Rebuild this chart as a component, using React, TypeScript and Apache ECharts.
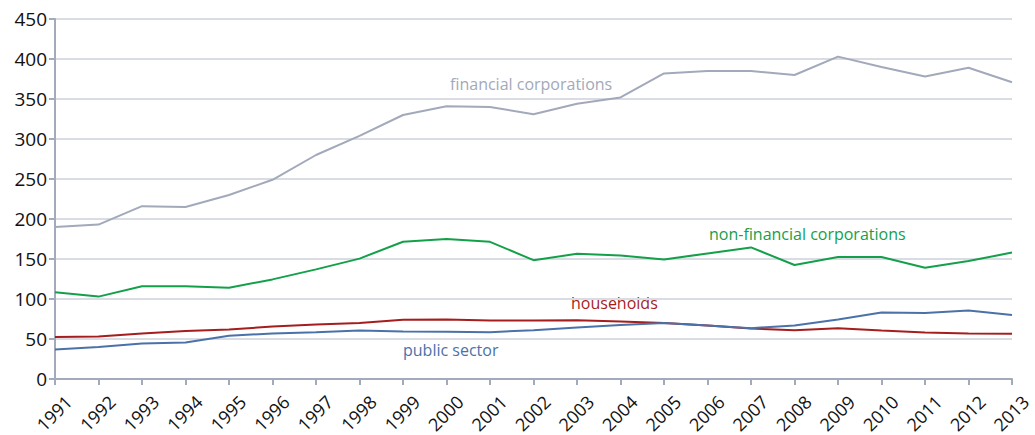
import React, { useEffect, useRef } from "react";
import * as echarts from "echarts";

const years = ["1991","1992","1993","1994","1995","1996","1997","1998","1999","2000","2001","2002","2003","2004","2005","2006","2007","2008","2009","2010","2011","2012","2013"];
const financial = [190, 193, 216, 215, 230, 249, 280, 304, 330, 341, 340, 331, 344, 352, 382, 385, 385, 380, 403, 390, 378, 389, 371];
const nonFinancial = [108.5, 103, 116, 116, 114, 124.5, 137, 150.5, 171.5, 175, 171.5, 148.5, 156.5, 154.5, 149.5, 157, 164.5, 142.5, 152.5, 152.5, 139, 147.5, 158];
const households = [52.5, 53, 57, 60, 62, 65.5, 68, 70, 74, 74.5, 73, 73, 73.5, 72, 70, 67, 63, 61, 63.5, 60.5, 58, 57, 56.5];
const publicSector = [37, 40, 44.5, 45.5, 54, 57, 58.5, 60.5, 59.5, 59, 58.5, 61, 64.5, 67.5, 70, 67, 63.5, 67, 74.5, 83, 82.5, 85.5, 80];
const yTicks = { min: 0, max: 450, interval: 50 };

const FONT = "'Open Sans', sans-serif";
const C_FIN = "#a2a9ba";
const C_NONFIN = "#14a04a";
const C_HH = "#a51d1d";
const C_PUB = "#4a72a8";
const AXIS = "#a3aabb";

export default function App() {
  const ref = useRef<HTMLDivElement>(null);
  useEffect(() => {
    if (!ref.current) return;
    const chart = echarts.init(ref.current, null, { renderer: "svg" });
    const line = (name: string, data: number[], color: string) => ({
      name,
      type: "line",
      data,
      symbol: "none",
      lineStyle: { color, width: 2 },
      itemStyle: { color },
    });
    const seriesLabels = [
      { type: "text", left: 450, top: 76, style: { text: "financial corporations", fill: C_FIN, fontSize: 16, fontFamily: FONT } },
      { type: "text", left: 709, top: 226, style: { text: "non-financial corporations", fill: C_NONFIN, fontSize: 16, fontFamily: FONT } },
      { type: "text", left: 571, top: 295, style: { text: "households", fill: C_HH, fontSize: 16, fontFamily: FONT } },
      { type: "text", left: 403, top: 342, style: { text: "public sector", fill: C_PUB, fontSize: 16, fontFamily: FONT } },
    ];
    chart.setOption({
      animation: false,
      backgroundColor: "#ffffff",
      grid: { left: 55, right: 23, top: 19, bottom: 56 },
      xAxis: {
        type: "category",
        data: years,
        boundaryGap: false,
        axisLine: { lineStyle: { color: AXIS, width: 2 } },
        axisTick: { show: true, length: 6, alignWithLabel: true, lineStyle: { color: AXIS, width: 2 } },
        axisLabel: { show: false },
        splitLine: { show: false },
      },
      yAxis: {
        type: "value",
        min: yTicks.min,
        max: yTicks.max,
        interval: yTicks.interval,
        axisLine: { show: true, lineStyle: { color: AXIS, width: 2 } },
        axisTick: { show: true, length: 6, lineStyle: { color: AXIS, width: 2 } },
        axisLabel: { color: "#111", fontSize: 19, fontFamily: FONT, margin: 8 },
        splitLine: { show: true, lineStyle: { color: "#d9dce3", width: 2 } },
      },
      series: [
        line("financial corporations", financial, C_FIN),
        line("non-financial corporations", nonFinancial, C_NONFIN),
        line("households", households, C_HH),
        line("public sector", publicSector, C_PUB),
      ],
      graphic: seriesLabels,
    });
    const yBase = chart.convertToPixel({ yAxisIndex: 0 }, 0) as number;
    const yearLabels = years.map((yr) => {
      const px = chart.convertToPixel({ xAxisIndex: 0 }, yr) as number;
      return {
        type: "text",
        x: px - 1,
        y: yBase + 34,
        rotation: Math.PI / 4,
        style: {
          text: yr,
          fill: "#111",
          fontSize: 18,
          fontFamily: FONT,
          align: "center",
          verticalAlign: "middle",
        },
      };
    });
    chart.setOption({ graphic: [...seriesLabels, ...yearLabels] });
    return () => chart.dispose();
  }, []);
  return <div ref={ref} style={{ position: "fixed", left: 0, top: 0, width: 1035, height: 435 }} />;
}
